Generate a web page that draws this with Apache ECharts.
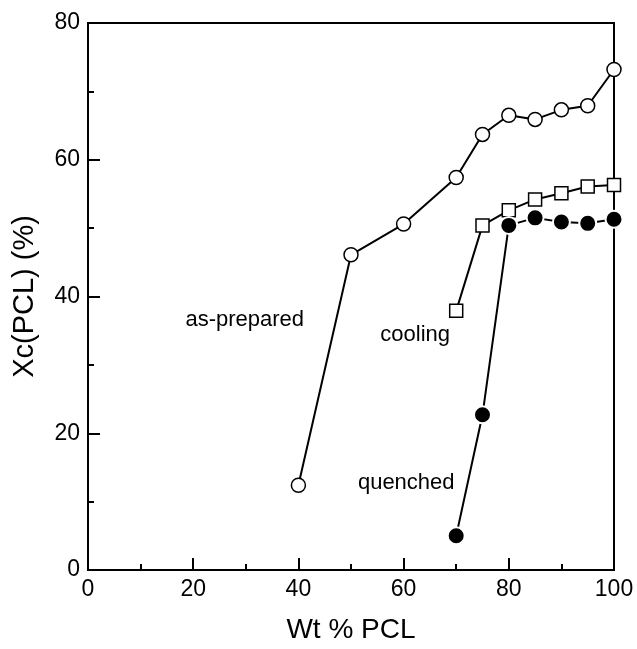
<!DOCTYPE html>
<html>
<head>
<meta charset="utf-8">
<script src="https://cdn.jsdelivr.net/npm/echarts@6/dist/echarts.min.js"></script>
<style>
  html, body { margin: 0; padding: 0; background: #fff; }
  #chart { width: 637px; height: 649px; }
</style>
</head>
<body>
<div id="chart"></div>
<script>
// wt % PCL and crystallinity
const asPreparedX = [40, 50, 60, 70, 75, 80, 85, 90, 95, 100];
const asPreparedY = [12.4, 46.1, 50.6, 57.4, 63.7, 66.5, 65.9, 67.3, 67.9, 73.2];
const coolingX = [70, 75, 80, 85, 90, 95, 100];
const coolingY = [37.9, 50.4, 52.6, 54.2, 55.1, 56.1, 56.3];
const quenchedX = [70, 75, 80, 85, 90, 95, 100];
const quenchedY = [5.0, 22.7, 50.4, 51.5, 50.9, 50.7, 51.3];

const labelNames = ["as-prepared", "cooling", "quenched"];
const labelAt = [[29.8, 36.6], [62.2, 34.4], [60.5, 12.8]];

const font = "Liberation Sans";

function pairs(xs, ys) {
  return xs.map((x, i) => [x, ys[i]]);
}

let myChart = echarts.init(document.getElementById("chart"));
myChart.setOption({
  animation: false,
  textStyle: { fontFamily: font, color: "#000" },
  grid: {
    left: 88,
    right: 23,
    top: 23,
    bottom: 77,
    show: true,
    borderColor: "#000",
    borderWidth: 2,
  },
  xAxis: {
    type: "value",
    min: 0,
    max: 100,
    interval: 20,
    name: "Wt % PCL",
    nameLocation: "middle",
    nameGap: 46,
    nameTextStyle: { fontSize: 28, fontFamily: font, color: "#000" },
    axisLine: { lineStyle: { color: "#000", width: 2 } },
    axisTick: { inside: true, length: 12, lineStyle: { color: "#000", width: 2 } },
    minorTick: { show: true, splitNumber: 2, length: 6, lineStyle: { color: "#000", width: 2 } },
    splitLine: { show: false },
    axisLabel: { fontSize: 23, color: "#000", margin: 8, fontFamily: font },
  },
  yAxis: {
    type: "value",
    min: 0,
    max: 80,
    interval: 20,
    name: "Xc(PCL) (%)",
    nameLocation: "middle",
    nameGap: 49,
    nameTextStyle: { fontSize: 29, fontFamily: font, color: "#000" },
    axisLine: { lineStyle: { color: "#000", width: 2 } },
    axisTick: { inside: true, length: 12, lineStyle: { color: "#000", width: 2 } },
    minorTick: { show: true, splitNumber: 2, length: 6, lineStyle: { color: "#000", width: 2 } },
    splitLine: { show: false },
    axisLabel: { fontSize: 23, color: "#000", margin: 8, fontFamily: font },
  },
  series: [
    {
      name: "as-prepared",
      type: "line",
      data: pairs(asPreparedX, asPreparedY),
      symbol: "circle",
      symbolSize: 14,
      lineStyle: { color: "#000", width: 2 },
      itemStyle: { color: "#fff", borderColor: "#000", borderWidth: 1.5 },
    },
    {
      name: "cooling",
      type: "line",
      data: pairs(coolingX, coolingY),
      symbol: "rect",
      symbolSize: 13,
      lineStyle: { color: "#000", width: 2 },
      itemStyle: { color: "#fff", borderColor: "#000", borderWidth: 1.5 },
    },
    {
      name: "quenched",
      type: "line",
      data: pairs(quenchedX, quenchedY),
      symbol: "circle",
      symbolSize: 17,
      lineStyle: { color: "#000", width: 2 },
      itemStyle: { color: "#000", borderColor: "#fff", borderWidth: 2 },
    },
    {
      name: "labels",
      type: "scatter",
      symbolSize: 1,
      silent: true,
      itemStyle: { color: "#fff", opacity: 0 },
      data: labelAt.map((p, i) => ({ value: p, name: labelNames[i] })),
      label: {
        show: true,
        position: "inside",
        formatter: (p) => p.name,
        fontSize: 22,
        fontFamily: font,
        color: "#000",
        opacity: 1,
        textBorderWidth: 0,
      },
      z: 5,
    },
  ],
});
</script>
</body>
</html>
